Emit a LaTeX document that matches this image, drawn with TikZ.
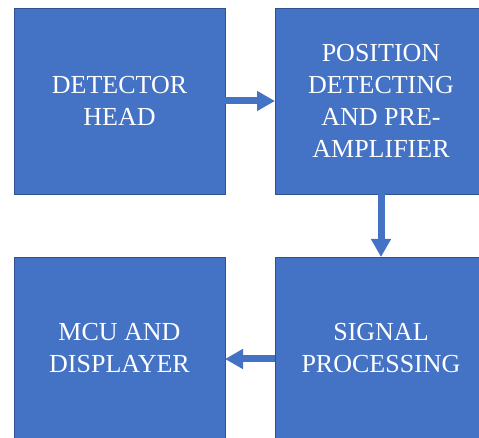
\documentclass[tikz,border=0pt]{standalone}
\usepackage{fontspec}
\setmainfont{Liberation Serif}
\usetikzlibrary{arrows.meta}
\definecolor{boxfill}{HTML}{4472C4}
\definecolor{boxline}{HTML}{2F528F}
\tikzset{
  block/.style={draw=boxline, line width=0.8pt, fill=boxfill, text=white,
    align=center, inner sep=0pt, outer sep=0pt,
    font=\fontsize{26}{32}\selectfont},
  flow/.style={draw=boxfill, line width=7pt,
    -{Triangle[length=18pt,width=19pt]}, shorten >=0pt}
}
\begin{document}
\begin{tikzpicture}[x=1pt,y=1pt]
  \useasboundingbox (0,0) rectangle (479,438);
  \clip (0,0) rectangle (479,438);
  % the four stages
  \node[block, minimum width=211pt, minimum height=186pt] (head) at (119.5,337) {DETECTOR\\HEAD};
  \node[block, minimum width=212pt, minimum height=186pt] (pos) at (381,337) {POSITION\\DETECTING\\AND PRE-\\AMPLIFIER};
  \node[block, minimum width=211pt, minimum height=182pt] (mcu) at (119.5,90) {MCU AND\\DISPLAYER};
  \node[block, minimum width=212pt, minimum height=182pt] (sig) at (381,90) {SIGNAL\\PROCESSING};
  % signal flow
  \draw[flow] (head.east) -- (pos.west);
  \draw[flow] (pos.south) -- (sig.north);
  \draw[flow] ([yshift=-11pt]sig.west) -- ([yshift=-11pt]mcu.east);
\end{tikzpicture}
\end{document}
